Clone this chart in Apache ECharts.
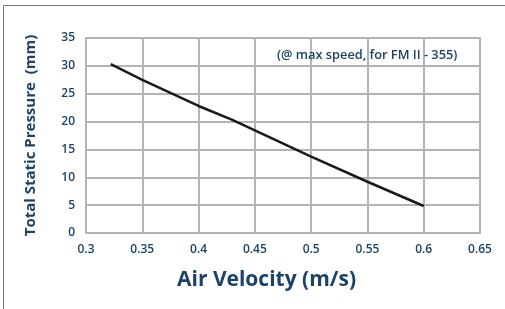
<!DOCTYPE html>
<html>
<head>
<meta charset="utf-8">
<script src="https://cdn.jsdelivr.net/npm/echarts@6/dist/echarts.min.js"></script>
<style>
  html, body { margin: 0; padding: 0; background: #fff; }
  #main { width: 505px; height: 309px; }
</style>
</head>
<body>
<div id="main"></div>
<script>
// values
var velocity = [0.322, 0.35, 0.4, 0.43, 0.5, 0.55, 0.6];
var pressure = [30.3, 27.5, 22.8, 20.3, 13.7, 9.2, 4.85];

var navy = '#1b4369';
var gridGray = '#b4b4b4';

var myChart = echarts.init(document.getElementById('main'));

var points = velocity.map(function (v, i) { return [v, pressure[i]]; });

var option = {
    animation: false,
    textStyle: { fontFamily: 'Open Sans' },
    title: {
        text: '(@ max speed, for FM II - 355)',
        left: 272,
        top: 44,
        textStyle: { color: navy, fontSize: 12.8, fontWeight: 600, fontFamily: 'Open Sans' }
    },
    grid: { left: 86, right: 25, top: 38, bottom: 76 },
    xAxis: {
        type: 'value',
        min: 0.3,
        max: 0.65,
        interval: 0.05,
        axisLine: { show: true, lineStyle: { color: gridGray, width: 2 } },
        axisTick: { show: false },
        axisLabel: { color: navy, fontSize: 12, fontWeight: 600, margin: 11 },
        splitLine: { show: true, lineStyle: { color: gridGray, width: 2 } }
    },
    yAxis: {
        type: 'value',
        min: 0,
        max: 35,
        interval: 5,
        name: 'Total Static Pressure  (mm)',
        nameLocation: 'middle',
        nameGap: 48,
        nameTextStyle: { color: navy, fontSize: 15, fontWeight: 'bold' },
        axisLine: { show: true, lineStyle: { color: gridGray, width: 2 } },
        axisTick: { show: false },
        axisLabel: { color: navy, fontSize: 12, fontWeight: 600, margin: 11 },
        splitLine: { show: true, lineStyle: { color: gridGray, width: 2 } }
    },
    graphic: [
        {
            type: 'rect',
            shape: { x: 3.5, y: 5.5, width: 520, height: 320 },
            style: { fill: 'none', stroke: '#777', lineWidth: 1 },
            silent: true
        },
        {
            type: 'text',
            left: 177,
            top: 270,
            style: { text: 'Air Velocity (m/s)', fill: navy, font: 'bold 21px "Open Sans"' }
        },
        {
            type: 'rect',
            shape: { x: 479, y: 37, width: 2, height: 197 },
            style: { fill: gridGray },
            silent: true
        },
        {
            type: 'rect',
            shape: { x: 86, y: 37, width: 395, height: 2 },
            style: { fill: gridGray },
            silent: true
        }
    ],
    series: [{
        type: 'line',
        data: points,
        symbol: 'none',
        lineStyle: { color: '#1a1a1a', width: 2.5 }
    }]
};

myChart.setOption(option);
</script>
</body>
</html>
